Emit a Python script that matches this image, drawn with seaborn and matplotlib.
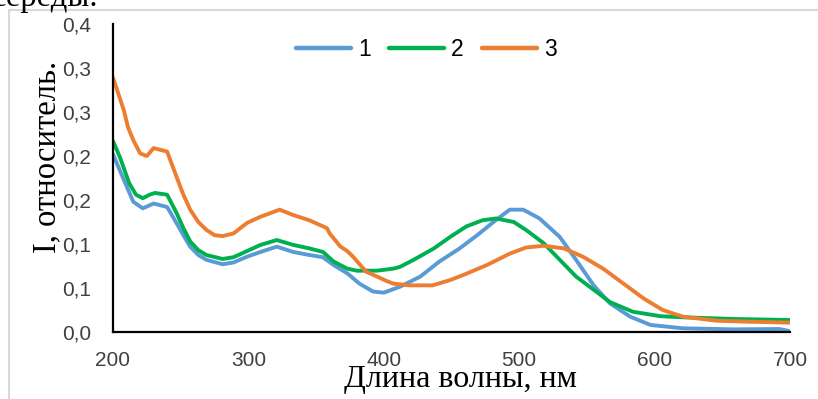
import matplotlib
matplotlib.use("Agg")
import matplotlib.pyplot as plt
from matplotlib.lines import Line2D
from matplotlib.ticker import MultipleLocator, FixedLocator
import seaborn as sns
import pandas as pd

# Absorption spectra, wavelength (nm) vs. relative intensity
wl_1 = [200, 208, 215, 222, 230, 240, 247, 252, 257, 263, 269, 281, 289, 299,
        309, 321, 333, 345, 355, 363, 373, 382, 392, 400, 412, 427, 441, 456,
        469, 481, 493, 503, 515, 530, 542, 555, 567, 582, 597, 621, 658, 692, 700]
val_1 = [0.202, 0.173, 0.148, 0.1405, 0.146, 0.142, 0.1235, 0.110, 0.097, 0.0875,
         0.082, 0.077, 0.079, 0.0856, 0.091, 0.097, 0.091, 0.0875, 0.085, 0.076,
         0.0667, 0.055, 0.046, 0.0447, 0.0515, 0.063, 0.080, 0.095, 0.110, 0.125,
         0.139, 0.139, 0.129, 0.108, 0.082, 0.053, 0.0326, 0.0174, 0.008, 0.0042,
         0.003, 0.0034, 0.001]

wl_2 = [200, 205, 212, 217, 222, 227, 231, 240, 247, 252, 257, 263, 269, 281,
        289, 299, 309, 321, 333, 345, 355, 363, 373, 380, 395, 407, 412, 422,
        437, 449, 461, 473, 483, 496, 505, 518, 530, 542, 555, 567, 584, 604,
        621, 658, 700]
val_2 = [0.217, 0.199, 0.169, 0.156, 0.152, 0.156, 0.158, 0.156, 0.135, 0.118,
         0.103, 0.093, 0.0875, 0.083, 0.085, 0.092, 0.099, 0.1045, 0.099, 0.095,
         0.091, 0.080, 0.072, 0.0697, 0.0697, 0.072, 0.074, 0.082, 0.095, 0.108,
         0.120, 0.127, 0.129, 0.125, 0.116, 0.101, 0.082, 0.063, 0.048, 0.034,
         0.023, 0.018, 0.0167, 0.0148, 0.0136]

wl_3 = [200, 208, 211, 215, 218, 220, 225, 230, 240, 247, 252, 257, 263, 269,
        275, 281, 289, 294, 299, 309, 323, 333, 341, 345, 358, 360, 368, 373,
        377, 385, 387, 395, 402, 407, 419, 436, 449, 459, 476, 493, 505, 518,
        533, 547, 562, 577, 592, 606, 621, 646, 670, 700]
val_3 = [0.289, 0.252, 0.233, 0.218, 0.209, 0.203, 0.200, 0.209, 0.205, 0.176,
         0.156, 0.139, 0.125, 0.116, 0.110, 0.109, 0.112, 0.118, 0.124, 0.131,
         0.139, 0.133, 0.129, 0.127, 0.118, 0.112, 0.097, 0.092, 0.086, 0.072,
         0.0685, 0.063, 0.058, 0.055, 0.053, 0.053, 0.059, 0.065, 0.076, 0.089,
         0.096, 0.098, 0.095, 0.0856, 0.072, 0.055, 0.038, 0.025, 0.0174, 0.0128,
         0.0117, 0.0106]

series_names = ["1", "2", "3"]
series_colors = ["#5B9BD5", "#00B050", "#ED7D31"]

y_ticks = [0.0, 0.05, 0.10, 0.15, 0.20, 0.25, 0.30, 0.35]
y_tick_labels = ["0,0", "0,1", "0,1", "0,2", "0,2", "0,3", "0,3", "0,4"]
x_ticks = [200, 300, 400, 500, 600, 700]

frames = []
for name, wl, val in zip(series_names, [wl_1, wl_2, wl_3], [val_1, val_2, val_3]):
    frames.append(pd.DataFrame({"wl": wl, "I": val, "s": name}))
df = pd.concat(frames, ignore_index=True)

sns.set_theme(style="white")
plt.rcParams["font.family"] = ["Liberation Sans", "DejaVu Sans"]

fig = plt.figure(figsize=(8.18, 3.99), dpi=100)
ax = fig.add_axes([113 / 818, 1 - 332 / 399, 677 / 818, 308 / 399])

sns.lineplot(data=df, x="wl", y="I", hue="s", palette=series_colors,
             hue_order=series_names, estimator=None, sort=True,
             linewidth=2.8, ax=ax)
for ln in ax.get_lines():
    ln.set_solid_joinstyle("round")

ax.set_xlim(200, 700)
ax.set_ylim(0, 0.35)
ax.xaxis.set_major_locator(FixedLocator(x_ticks))
ax.xaxis.set_minor_locator(MultipleLocator(20))
ax.yaxis.set_major_locator(FixedLocator(y_ticks))
ax.yaxis.set_minor_locator(MultipleLocator(0.01))
ax.set_yticklabels(y_tick_labels)
ax.set_xticklabels([str(v) for v in x_ticks])

for side in ["top", "right"]:
    ax.spines[side].set_visible(False)
for side in ["left", "bottom"]:
    ax.spines[side].set_color("black")
    ax.spines[side].set_linewidth(1.6)

ax.tick_params(axis="both", which="major", direction="out", length=6, width=1.3,
               color="black", labelsize=15, labelcolor="#404040", pad=8)
ax.tick_params(axis="both", which="minor", direction="out", length=5, width=1.1,
               color="black")
ax.tick_params(axis="y", which="major", pad=10)

serif = ["Liberation Serif", "DejaVu Serif"]
ax.set_xlabel("Длина волны, нм", fontsize=23, family=serif, color="black")
ax.set_ylabel("I, относитель.", fontsize=23.5, family=serif, color="black")
ax.xaxis.set_label_coords(0.5125, -0.108)
ax.yaxis.set_label_coords(-0.075, 0.57)

leg = ax.legend(loc="center", bbox_to_anchor=(0.521, 0.877),
                bbox_transform=fig.transFigure, ncol=3, frameon=False,
                handlelength=2.4, handletextpad=0.3, columnspacing=0.8,
                prop={"family": "Liberation Sans", "size": 16.5})
for h in leg.get_lines():
    h.set_linewidth(3.2)
    h.set_solid_capstyle("round")
for t in leg.get_texts():
    t.set_color("black")

# border of the surrounding frame and the line of text above it
fig.add_artist(Line2D([9 / 818, 9 / 818], [0, 1 - 10 / 399],
                      transform=fig.transFigure, color="#d9d9d9", lw=1.5))
fig.add_artist(Line2D([9 / 818, 1], [1 - 10 / 399, 1 - 10 / 399],
                      transform=fig.transFigure, color="#d9d9d9", lw=1.5))
fig.text(98 / 818, 1 - 6 / 399, "середы.", ha="right", va="baseline",
         fontsize=23.5, family=serif, color="black")

fig.savefig("out.png", dpi=100)
